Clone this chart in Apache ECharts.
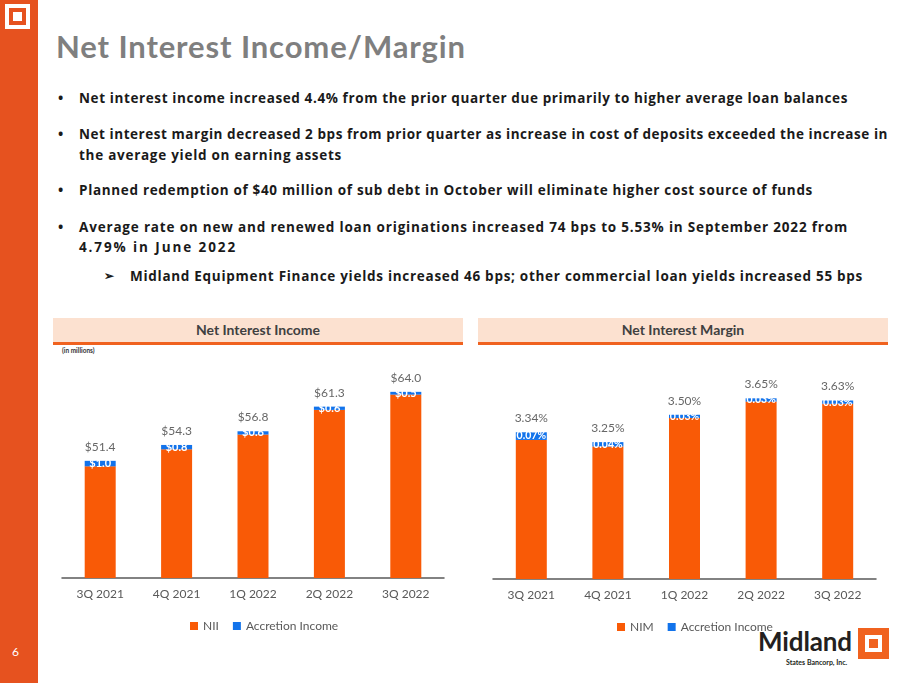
<!DOCTYPE html>
<html>
<head>
<meta charset="utf-8">
<script src="https://cdn.jsdelivr.net/npm/echarts@6/dist/echarts.min.js"></script>
<style>
  html,body{margin:0;padding:0;background:#fff;width:911px;height:683px;overflow:hidden;font-family:Lato,"Open Sans",sans-serif;}
  .abs{position:absolute;white-space:nowrap;}
  .strip{left:0;top:0;width:38px;height:683px;background:#E6521F;}
  .bl{font-family:"Open Sans",sans-serif;font-weight:bold;font-size:13.5px;color:#1a1a1a;line-height:20px;}
  .dot{font-size:14px;}
  .band{height:24px;background:#FCE1D0;border-bottom:3px solid #F0621F;text-align:center;font-weight:bold;font-size:14px;color:#404040;line-height:24px;}
  #chart{position:absolute;left:0;top:0;width:911px;height:683px;}
</style>
</head>
<body>
<div class="abs strip"></div>
<div class="abs" style="left:5px;top:4px;width:25px;height:25px;background:#fff;"></div>
<div class="abs" style="left:9px;top:8px;width:17px;height:17px;background:#E6521F;"></div>
<div class="abs" style="left:13px;top:12px;width:9px;height:9px;background:#fff;"></div>
<div class="abs" style="left:12px;top:644px;color:#fff;font-size:12px;">6</div>

<div class="abs" id="title" style="left:56px;top:26px;font-size:31px;font-weight:bold;color:#7F7F7F;line-height:40px;">Net Interest Income/Margin</div>

<div class="abs bl dot" style="left:58px;top:88px;">•</div>
<div class="abs bl fit" data-w="769" style="left:79px;top:88px;">Net interest income increased 4.4% from the prior quarter due primarily to higher average loan balances</div>
<div class="abs bl dot" style="left:58px;top:124px;">•</div>
<div class="abs bl fit" data-w="809" style="left:79px;top:124px;">Net interest margin decreased 2 bps from prior quarter as increase in cost of deposits exceeded the increase in</div>
<div class="abs bl fit" data-w="263" style="left:79px;top:145px;">the average yield on earning assets</div>
<div class="abs bl dot" style="left:58px;top:180px;">•</div>
<div class="abs bl fit" data-w="734" style="left:79px;top:180px;">Planned redemption of $40 million of sub debt in October will eliminate higher cost source of funds</div>
<div class="abs bl dot" style="left:58px;top:217px;">•</div>
<div class="abs bl fit" data-w="769" style="left:79px;top:217px;">Average rate on new and renewed loan originations increased 74 bps to 5.53% in September 2022 from</div>
<div class="abs bl fit" data-w="158" style="left:79px;top:237px;">4.79% in June 2022</div>
<div class="abs bl" style="left:104px;top:266px;font-size:12px;">&#10146;</div>
<div class="abs bl fit" data-w="733" style="left:130px;top:266px;">Midland Equipment Finance yields increased 46 bps; other commercial loan yields increased 55 bps</div>

<div class="abs band" style="left:53px;top:318px;width:410px;">Net Interest Income</div>
<div class="abs band" style="left:478px;top:318px;width:410px;">Net Interest Margin</div>
<div class="abs" style="left:62px;top:347px;font-size:6.5px;color:#333;font-weight:bold;">(in millions)</div>

<div class="abs fit" data-w="94" style="left:758px;top:625px;font-size:26px;font-weight:bold;color:#231F20;line-height:32px;">Midland</div>
<div class="abs" style="left:786px;top:658px;font-size:7px;color:#231F20;font-weight:bold;">States Bancorp, Inc.</div>
<div class="abs" style="left:858px;top:628px;width:31px;height:31px;background:#F0621F;"></div>
<div class="abs" style="left:865px;top:635px;width:17px;height:17px;background:#fff;"></div>
<div class="abs" style="left:869px;top:639px;width:9px;height:9px;background:#F0621F;"></div>

<div id="chart"></div>
<script>
// ---- data ----
const categories = ['3Q 2021', '4Q 2021', '1Q 2022', '2Q 2022', '3Q 2022'];
const niiTotal = [51.4, 54.3, 56.8, 61.3, 64.0];
const niiAccretion = [1.0, 0.8, 0.6, 0.6, 0.5];
const nimTotal = [3.34, 3.25, 3.50, 3.65, 3.63];
const nimAccretion = [0.07, 0.04, 0.03, 0.03, 0.03];

const niiBase = niiTotal.map((t, i) => +(t - niiAccretion[i]).toFixed(2));
const nimBase = nimTotal.map((t, i) => +(t - nimAccretion[i]).toFixed(2));

// fit text widths
document.querySelectorAll('.fit').forEach(el => {
  const target = +el.dataset.w;
  const w = el.getBoundingClientRect().width;
  const n = el.textContent.length;
  el.style.letterSpacing = ((target - w) / n) + 'px';
});
(function(){
  const el = document.getElementById('title');
  const w = el.getBoundingClientRect().width;
  const n = el.textContent.length;
  el.style.letterSpacing = ((410 - w) / n) + 'px';
})();

const ORANGE = '#F95A06', BLUE = '#1273EB';
const FONT = 'Lato';
const chart = echarts.init(document.getElementById('chart'), null, {renderer: 'canvas'});

function xAxis(idx) {
  return {
    type: 'category', gridIndex: idx, data: categories,
    axisLine: {lineStyle: {color: '#595959', width: 1.5}},
    axisTick: {show: false},
    axisLabel: {color: '#595959', fontSize: 12, fontFamily: FONT, margin: 10}
  };
}
function yAxis(idx, min, max) {
  return {type: 'value', gridIndex: idx, min: min, max: max, show: false, splitLine: {show: false}};
}
const labelTop = {show: true, position: 'top', distance: 7, color: '#404040', fontSize: 12, fontFamily: FONT};
const labelIn = {show: true, position: 'inside', color: '#fff', fontSize: 11, fontWeight: 'bold', fontFamily: FONT};

chart.setOption({
  backgroundColor: 'transparent',
  animation: false,
  grid: [
    {left: 62, width: 382, top: 359, height: 219},
    {left: 493, width: 383, top: 360, height: 219}
  ],
  xAxis: [xAxis(0), xAxis(1)],
  yAxis: [yAxis(0, 30, 70), yAxis(1, 2, 4)],
  legend: [
    {data: ['NII', 'Accretion Income'], left: 185, top: 615, itemWidth: 8, itemHeight: 8, itemGap: 14, icon: 'rect',
     textStyle: {color: '#595959', fontSize: 12, fontFamily: FONT}},
    {data: ['NIM', 'Accretion Income'], left: 612, top: 616, itemWidth: 8, itemHeight: 8, itemGap: 14, icon: 'rect',
     textStyle: {color: '#595959', fontSize: 12, fontFamily: FONT}}
  ],
  series: [
    {name: 'NII', type: 'bar', stack: 'nii', xAxisIndex: 0, yAxisIndex: 0, barWidth: 31,
     itemStyle: {color: ORANGE}, data: niiBase},
    {name: 'Accretion Income', type: 'bar', stack: 'nii', xAxisIndex: 0, yAxisIndex: 0, barWidth: 31,
     itemStyle: {color: BLUE}, data: niiAccretion,
     label: Object.assign({}, labelIn, {formatter: p => '$' + p.value.toFixed(1)})},
    {name: 'niiTotal', type: 'scatter', xAxisIndex: 0, yAxisIndex: 0, symbolSize: 2, itemStyle: {color: 'rgba(0,0,0,0)'}, data: niiTotal,
     label: Object.assign({}, labelTop, {formatter: p => '$' + p.value.toFixed(1)}), silent: true},

    {name: 'NIM', type: 'bar', stack: 'nim', xAxisIndex: 1, yAxisIndex: 1, barWidth: 31,
     itemStyle: {color: ORANGE}, data: nimBase},
    {name: 'Accretion Income', type: 'bar', stack: 'nim', xAxisIndex: 1, yAxisIndex: 1, barWidth: 31,
     itemStyle: {color: BLUE}, data: nimAccretion,
     label: Object.assign({}, labelIn, {fontSize: 10.5, formatter: p => p.value.toFixed(2) + '%'})},
    {name: 'nimTotal', type: 'scatter', xAxisIndex: 1, yAxisIndex: 1, symbolSize: 2, itemStyle: {color: 'rgba(0,0,0,0)'}, data: nimTotal,
     label: Object.assign({}, labelTop, {formatter: p => p.value.toFixed(2) + '%'}), silent: true}
  ]
});
</script>
</body>
</html>
